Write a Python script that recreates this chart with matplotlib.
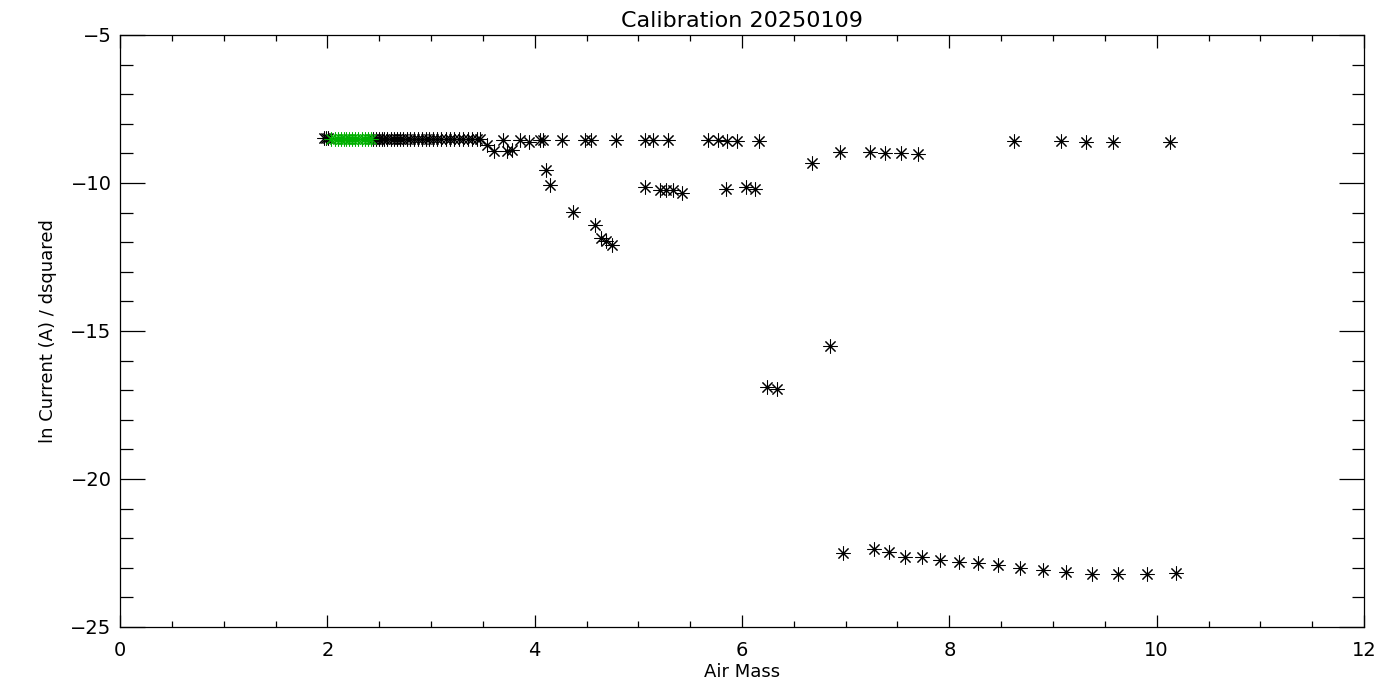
import matplotlib.pyplot as plt
from matplotlib.ticker import MultipleLocator

# black points: dense cluster near airmass 2-3.5
dense_x = [1.97, 1.99, 2.01, 2.44, 2.47, 2.50, 2.53, 2.55, 2.58, 2.61, 2.64,
           2.67, 2.70, 2.73, 2.77, 2.80, 2.84, 2.87, 2.91, 2.95, 2.98, 3.02,
           3.06, 3.10, 3.14, 3.18, 3.22, 3.27, 3.31, 3.36, 3.40, 3.44]
dense_y = [-8.48, -8.48, -8.49, -8.50, -8.50, -8.51, -8.52, -8.51, -8.50, -8.52,
           -8.53, -8.52, -8.51, -8.53, -8.52, -8.51, -8.50, -8.52, -8.51, -8.52,
           -8.53, -8.52, -8.51, -8.53, -8.52, -8.51, -8.52, -8.53, -8.52, -8.53,
           -8.52, -8.53]

# upper branch
upper_x = [3.47, 3.54, 3.61, 3.69, 3.73, 3.78, 3.86, 3.95, 4.05, 4.08, 4.26,
           4.49, 4.54, 4.78, 5.06, 5.14, 5.29, 5.67, 5.77, 5.86, 5.95, 6.16,
           6.68, 6.95, 7.23, 7.38, 7.53, 7.70, 8.62, 9.08, 9.32, 9.58, 10.13]
upper_y = [-8.53, -8.70, -8.92, -8.55, -8.92, -8.88, -8.55, -8.60, -8.55, -8.55, -8.55,
           -8.55, -8.55, -8.55, -8.55, -8.55, -8.55, -8.55, -8.55, -8.58, -8.58, -8.58,
           -9.32, -8.95, -8.95, -8.98, -8.98, -9.01, -8.58, -8.58, -8.62, -8.62, -8.62]

# middle branch
mid_x = [4.11, 4.15, 4.37, 4.58, 4.64, 4.69, 4.75,
         5.06, 5.21, 5.27, 5.33, 5.42, 5.85, 6.04, 6.13]
mid_y = [-9.56, -10.07, -10.98, -11.42, -11.86, -11.96, -12.09,
         -10.14, -10.24, -10.24, -10.24, -10.34, -10.20, -10.14, -10.20]

# low points
low_x = [6.24, 6.34, 6.85]
low_y = [-16.89, -16.96, -15.50]

# bottom branch
bottom_x = [6.97, 7.27, 7.42, 7.57, 7.74, 7.91, 8.09, 8.28, 8.47, 8.68,
            8.90, 9.13, 9.38, 9.63, 9.91, 10.19]
bottom_y = [-22.50, -22.36, -22.47, -22.64, -22.64, -22.74, -22.80, -22.84, -22.90, -23.00,
            -23.07, -23.14, -23.20, -23.22, -23.22, -23.18]

# green selected points
green_x = [2.04, 2.07, 2.10, 2.13, 2.16, 2.18, 2.21, 2.24, 2.27, 2.30,
           2.33, 2.36, 2.39, 2.42]
green_y = [-8.50, -8.50, -8.51, -8.50, -8.51, -8.50, -8.51, -8.50, -8.51, -8.50,
           -8.51, -8.50, -8.51, -8.50]

fig = plt.figure(figsize=(14, 7), dpi=100)
ax = fig.add_axes([120 / 1400, 1 - 627 / 700, 1244 / 1400, 592 / 700])

star = (8, 2, 0)
ms = 10
for xs, ys in [(dense_x, dense_y), (upper_x, upper_y), (mid_x, mid_y),
               (low_x, low_y), (bottom_x, bottom_y)]:
    ax.plot(xs, ys, linestyle='none', marker=star, color='black',
            markersize=ms, markeredgewidth=0.75)
ax.plot(green_x, green_y, linestyle='none', marker=star, color='#00b000',
        markersize=ms, markeredgewidth=0.75)

ax.set_xlim(0, 12)
ax.set_ylim(-25, -5)
ax.xaxis.set_major_locator(MultipleLocator(2))
ax.xaxis.set_minor_locator(MultipleLocator(0.5))
ax.yaxis.set_major_locator(MultipleLocator(5))
ax.yaxis.set_minor_locator(MultipleLocator(1))

for s in ax.spines.values():
    s.set_linewidth(0.9)
ax.tick_params(axis='x', which='major', direction='in', length=9, width=0.9,
               top=True, labelsize=14, pad=10)
ax.tick_params(axis='x', which='minor', direction='in', length=4.5, width=0.9, top=True)
ax.tick_params(axis='y', which='major', direction='in', length=18, width=0.9,
               right=True, labelsize=14, pad=6)
ax.tick_params(axis='y', which='minor', direction='in', length=9, width=0.9, right=True)

ax.set_title('Calibration 20250109', fontsize=16, pad=6)
ax.set_xlabel('Air Mass', fontsize=13, labelpad=2)
ax.set_ylabel('ln Current (A) / dsquared', fontsize=13, labelpad=10)

fig.savefig('out.png', dpi=100)
